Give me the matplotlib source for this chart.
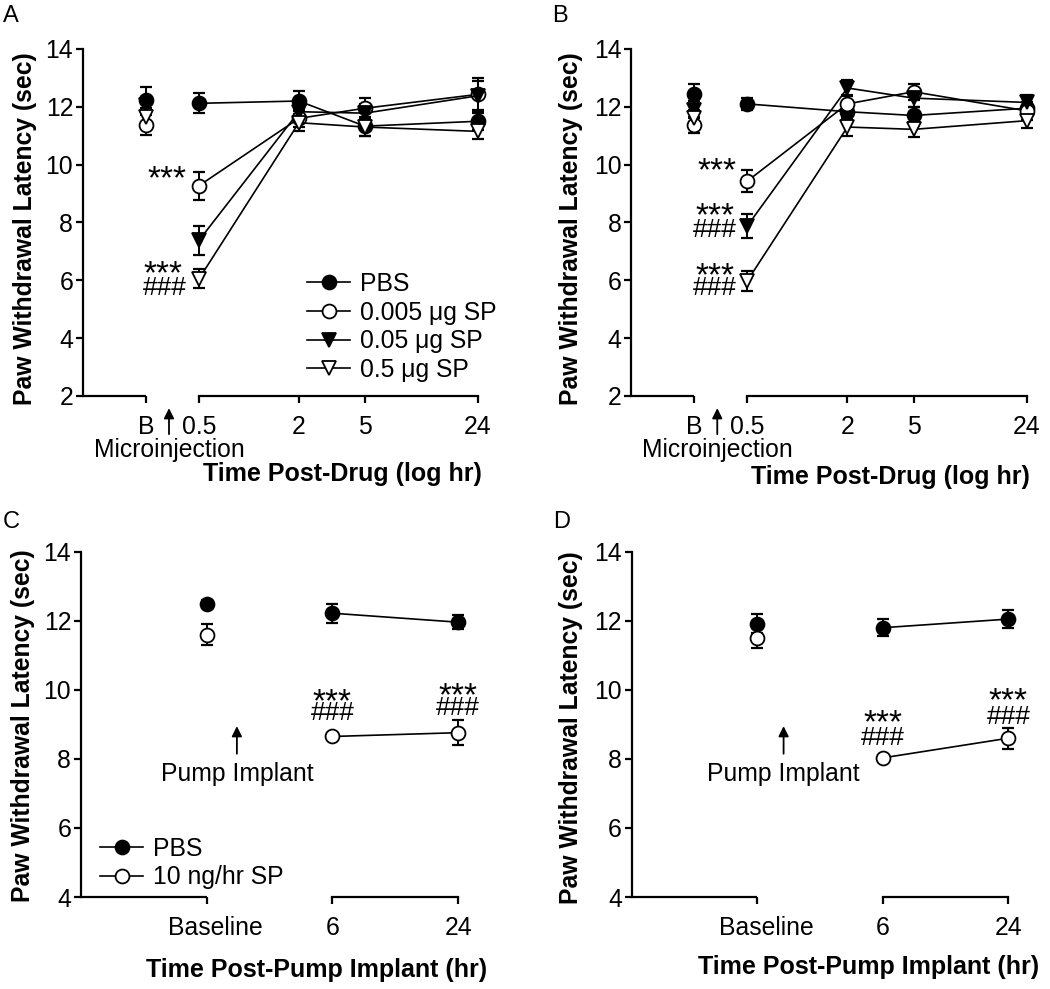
import matplotlib
matplotlib.use('Agg')
import matplotlib.pyplot as plt
from matplotlib.transforms import ScaledTranslation

plt.rcParams['font.family'] = ['Liberation Sans', 'DejaVu Sans']

# ---------------- data: panels A and B ----------------
time_ab = [0.24, 0.5, 2, 5, 24]
time_labels_ab = ['B', '0.5', '2', '5', '24']
series_ab = ['PBS', '0.005 μg SP', '0.05 μg SP', '0.5 μg SP']

a_pbs = [12.25, 12.12, 12.2, 11.33, 11.5]
a_pbs_err = [0.45, 0.35, 0.35, 0.33, 0.3]
a_sp005 = [11.37, 9.27, 11.6, 11.95, 12.43]
a_sp005_err = [0.35, 0.48, 0.3, 0.37, 0.57]
a_sp05 = [12.05, 7.38, 11.83, 11.78, 12.38]
a_sp05_err = [0.3, 0.5, 0.3, 0.3, 0.5]
a_sp5 = [11.65, 6.05, 11.45, 11.3, 11.15]
a_sp5_err = [0.3, 0.33, 0.3, 0.3, 0.25]

b_pbs = [12.45, 12.1, 11.83, 11.7, 11.95]
b_pbs_err = [0.35, 0.2, 0.3, 0.3, 0.2]
b_sp005 = [11.38, 9.43, 12.1, 12.52, 11.86]
b_sp005_err = [0.27, 0.37, 0.3, 0.27, 0.3]
b_sp05 = [11.9, 7.88, 12.65, 12.3, 12.15]
b_sp05_err = [0.3, 0.42, 0.27, 0.3, 0.25]
b_sp5 = [11.6, 5.98, 11.3, 11.22, 11.52]
b_sp5_err = [0.3, 0.35, 0.3, 0.25, 0.25]

# significance marks (x of right edge, y centre, text)
a_marks = [(0.42, 9.75, '***'), (0.40, 6.47, '***'), (0.42, 5.72, '###')]
b_marks = [(0.43, 10.04, '***'), (0.42, 8.48, '***'), (0.43, 7.73, '###'),
           (0.42, 6.41, '***'), (0.43, 5.72, '###')]

# ---------------- data: panels C and D ----------------
pump_pos = [0, 1, 2]
pump_labels = ['Baseline', '6', '24']
series_cd = ['PBS', '10 ng/hr SP']

c_pbs = [12.5, 12.22, 11.96]
c_pbs_err = [0.1, 0.28, 0.2]
c_sp = [11.6, 8.65, 8.76]
c_sp_err = [0.3, 0.06, 0.37]

d_pbs = [11.92, 11.8, 12.05]
d_pbs_err = [0.27, 0.25, 0.27]
d_sp = [11.5, 8.03, 8.6]
d_sp_err = [0.3, 0.05, 0.3]

c_marks = [(1, 9.88, '***'), (1, 9.33, '###'), (2, 10.04, '***'), (2, 9.48, '###')]
d_marks = [(1, 9.27, '***'), (1, 8.62, '###'), (2, 9.90, '***'), (2, 9.22, '###')]

# ---------------- styling ----------------
FS = 17.8
styles = [dict(marker='o', mfc='black'), dict(marker='o', mfc='white'),
          dict(marker='v', mfc='black'), dict(marker='v', mfc='white')]
MS = 10
LW = 1.2
SPW = 1.6

fig = plt.figure(figsize=(10.5, 9.89), dpi=100)
fig.patch.set_facecolor('white')


def plot_series(ax, x, y, err, style, label):
    ax.errorbar(x, y, yerr=err, fmt='none', ecolor='black', elinewidth=1.4,
                capsize=4.5, capthick=1.6, zorder=2, clip_on=False)
    # baseline point, not connected
    ax.plot(x[:1], y[:1], linestyle='none', color='black', markeredgecolor='black',
            markersize=MS, markeredgewidth=1.3, zorder=3, clip_on=False, **style)
    line, = ax.plot(x[1:], y[1:], color='black', lw=LW, markeredgecolor='black',
                    markersize=MS, markeredgewidth=1.3, zorder=3, clip_on=False,
                    label=label, **style)
    return line


def style_axes(ax, xbreak_left, xbreak_right, ticks, labels):
    for s in ['top', 'right']:
        ax.spines[s].set_visible(False)
    ax.spines['left'].set_linewidth(SPW)
    ax.spines['bottom'].set_linewidth(SPW)
    ax.spines['bottom'].set_bounds(xbreak_right, ticks[-1])
    x0 = ax.get_xlim()[0]
    ax.plot([x0, xbreak_left], [0, 0], color='black', lw=SPW, solid_capstyle='butt',
            transform=ax.get_xaxis_transform(), clip_on=False)
    ax.set_xticks(ticks)
    ax.set_xticklabels(labels)
    ax.xaxis.set_minor_locator(matplotlib.ticker.NullLocator())
    ax.tick_params(axis='x', direction='out', length=5, width=SPW, labelsize=FS, pad=9)
    ax.tick_params(axis='y', direction='out', length=5, width=SPW, labelsize=FS, pad=2)


def add_marks(ax, marks, ha):
    for x, y, t in marks:
        if t == '***':
            tr = ax.transData + ScaledTranslation(0, -6.0 / 72, fig.dpi_scale_trans)
            ax.text(x, y, t, ha=ha, va='center', fontsize=24, transform=tr)
        else:
            ax.text(x, y, t, ha=ha, va='center', fontsize=19)


# ---------------- panels A and B ----------------
pos_ab = [[0.0790, 0.5996, 0.3762, 0.3509], [0.6010, 0.5996, 0.3769, 0.3509]]
data_ab = [
    [(a_pbs, a_pbs_err), (a_sp005, a_sp005_err), (a_sp05, a_sp05_err), (a_sp5, a_sp5_err)],
    [(b_pbs, b_pbs_err), (b_sp005, b_sp005_err), (b_sp05, b_sp05_err), (b_sp5, b_sp5_err)],
]
marks_ab = [a_marks, b_marks]
for i in range(2):
    ax = fig.add_axes(pos_ab[i])
    ax.set_xscale('log')
    ax.set_xlim(0.1, 24)
    ax.set_ylim(2, 14)
    ax.set_yticks([2, 4, 6, 8, 10, 12, 14])
    handles = []
    for (y, e), st, lab in zip(data_ab[i], styles, series_ab):
        handles.append(plot_series(ax, time_ab, y, e, st, lab))
    style_axes(ax, time_ab[0], time_ab[1], time_ab, time_labels_ab)
    add_marks(ax, marks_ab[i], 'right')
    ax.annotate('', xy=(0.33, -0.035), xytext=(0.33, -0.11),
                xycoords=ax.get_xaxis_transform(), textcoords=ax.get_xaxis_transform(),
                arrowprops=dict(arrowstyle='-|>', color='black', lw=1.3,
                                mutation_scale=15, shrinkA=0, shrinkB=0))
    ax.text(0.33, -0.155, 'Microinjection', transform=ax.get_xaxis_transform(),
            ha='center', va='center', fontsize=FS)
    if i == 0:
        ax.legend(handles=handles, loc='upper left', bbox_to_anchor=(0.2924, 0.725),
                  bbox_transform=fig.transFigure, frameon=False, fontsize=FS,
                  handlelength=1.75, handletextpad=0.4, borderpad=0,
                  borderaxespad=0, labelspacing=0.19)

# ---------------- panels C and D ----------------
pos_cd = [[0.0771, 0.0930, 0.3593, 0.3491], [0.6016, 0.0930, 0.3587, 0.3491]]
data_cd = [[(c_pbs, c_pbs_err), (c_sp, c_sp_err)], [(d_pbs, d_pbs_err), (d_sp, d_sp_err)]]
marks_cd = [c_marks, d_marks]
pump_arrow_x = [0.24, 0.21]
for i in range(2):
    ax = fig.add_axes(pos_cd[i])
    ax.set_xlim(-1, 2)
    ax.set_ylim(4, 14)
    ax.set_yticks([4, 6, 8, 10, 12, 14])
    handles = []
    for (y, e), st, lab in zip(data_cd[i], styles[:2], series_cd):
        handles.append(plot_series(ax, pump_pos, y, e, st, lab))
    style_axes(ax, pump_pos[0], pump_pos[1], pump_pos, pump_labels)
    # 'Baseline' label sits a little right of its tick
    base_lbl = ax.get_xticklabels()[0]
    base_lbl.set_transform(base_lbl.get_transform() +
                           ScaledTranslation(9 / 100, 0, fig.dpi_scale_trans))
    add_marks(ax, marks_cd[i], 'center')
    xa = pump_arrow_x[i]
    ax.annotate('', xy=(xa, 8.95), xytext=(xa, 8.15),
                arrowprops=dict(arrowstyle='-|>', color='black', lw=1.3,
                                mutation_scale=15, shrinkA=0, shrinkB=0))
    ax.text(xa, 7.56, 'Pump Implant', ha='center', va='center', fontsize=FS)
    if i == 0:
        ax.legend(handles=handles, loc='upper left', bbox_to_anchor=(0.0952, 0.1540),
                  bbox_transform=fig.transFigure, frameon=False, fontsize=FS,
                  handlelength=1.75, handletextpad=0.4, borderpad=0,
                  borderaxespad=0, labelspacing=0.19)

# ---------------- figure texts ----------------
ylab = 'Paw Withdrawal Latency (sec)'
for (x, y) in [(0.0238, 0.7685), (0.5435, 0.7685), (0.0222, 0.2661), (0.5435, 0.264)]:
    fig.text(x, y, ylab, rotation=90, ha='center', va='center', fontsize=17.8,
             fontweight='bold')

fig.text(0.3257, 0.521, 'Time Post-Drug (log hr)', ha='center', va='center',
         fontsize=18, fontweight='bold')
fig.text(0.8483, 0.518, 'Time Post-Drug (log hr)', ha='center', va='center',
         fontsize=18, fontweight='bold')
fig.text(0.3016, 0.0192, 'Time Post-Pump Implant (hr)', ha='center', va='center',
         fontsize=18, fontweight='bold')
fig.text(0.827, 0.0225, 'Time Post-Pump Implant (hr)', ha='center', va='center',
         fontsize=18, fontweight='bold')

for (x, y, t) in [(3, 5, 'A'), (552, 5, 'B'), (3, 511, 'C'), (553, 511, 'D')]:
    fig.text(x / 1050, 1 - y / 989, t, ha='left', va='top', fontsize=17)

fig.savefig('out.png', dpi=100, facecolor='white')
